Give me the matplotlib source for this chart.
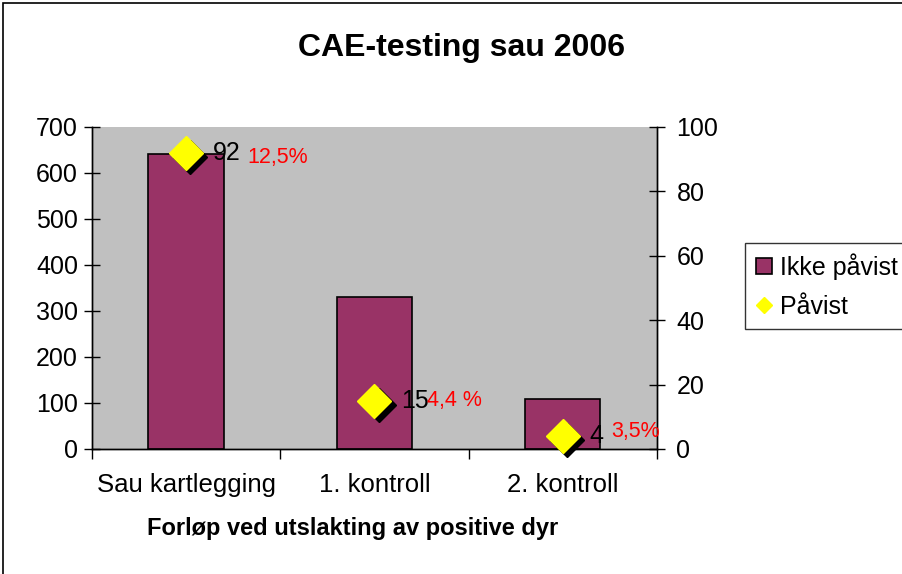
import matplotlib
matplotlib.use("Agg")
import matplotlib.pyplot as plt
from matplotlib.patches import Rectangle
from matplotlib.lines import Line2D
import matplotlib.transforms as mtransforms

categories = ["Sau kartlegging", "1. kontroll", "2. kontroll"]
ikke_pavist = [642, 330, 108]
pavist = [92, 15, 4]
pct_labels = ["12,5%", "4,4 %", "3,5%"]

title = "CAE-testing sau 2006"
xlabel = "Forløp ved utslakting av positive dyr"
left_ticks = [0, 100, 200, 300, 400, 500, 600, 700]
right_ticks = [0, 20, 40, 60, 80, 100]

plt.rcParams['font.family'] = ['Liberation Sans', 'DejaVu Sans']

W, H = 902, 574
fig = plt.figure(figsize=(W / 100, H / 100), dpi=100)
fig.patch.set_facecolor("white")

# figure border (left and top visible)
fig.patches.append(Rectangle((3 / W, -0.1), 1.2, (H - 3) / H + 0.1, transform=fig.transFigure,
                             fill=False, edgecolor="black", linewidth=1.2))

x0, x1 = 92, 657
y0, y1 = 127, 449
ax = fig.add_axes([x0 / W, 1 - y1 / H, (x1 - x0) / W, (y1 - y0) / H])
ax.set_facecolor("#C0C0C0")
pos = list(range(len(categories)))
ax.bar(pos, ikke_pavist, width=0.4, color="#993366", edgecolor="black", linewidth=1.2, zorder=2)
ax.set_xlim(-0.5, len(categories) - 0.5)
ax.set_ylim(0, 700)
ax.set_yticks(left_ticks)
ax.tick_params(axis='y', labelsize=18, direction='inout', length=12, width=1, pad=4)
ax.set_xticks(pos)
ax.set_xticklabels(categories, fontsize=18.5)
ax.tick_params(axis='x', length=0, pad=17)
ax.set_xticks([p - 0.5 for p in pos] + [len(pos) - 0.5], minor=True)
ax.tick_params(axis='x', which='minor', direction='out', length=7, width=1)
for s in ax.spines.values():
    s.set_linewidth(1)
ax.spines['top'].set_visible(False)

ax2 = ax.twinx()
ax2.set_ylim(0, 100)
ax2.set_yticks(right_ticks)
ax2.tick_params(axis='y', labelsize=18, direction='inout', length=12, width=1, pad=8)
ax2.spines['top'].set_visible(False)
for s in ax2.spines.values():
    s.set_linewidth(1)

shadow = mtransforms.offset_copy(ax2.transData, fig=fig, x=3, y=-3, units='points')
ax2.plot(pos, pavist, linestyle='none', marker='D', markersize=17, color='black',
         transform=shadow, zorder=3, clip_on=False)
ax2.plot(pos, pavist, linestyle='none', marker='D', markersize=17, markerfacecolor='#FFFF00',
         markeredgecolor='#FFFF00', zorder=4, clip_on=False)

pct_offsets = [(44, -3.6), (38, 0), (35, 3)]
for p, v, lab, off in zip(pos, pavist, pct_labels, pct_offsets):
    ax2.annotate(str(v), (p, v), xytext=(19, 0), textcoords='offset points',
                 fontsize=18, color='black', ha='left', va='center', zorder=5)
    ax2.annotate(lab, (p, v), xytext=off, textcoords='offset points',
                 fontsize=15.5, color='#FF0000', ha='left', va='center', zorder=5)

fig.text(462 / W, 1 - 48 / H, title, fontsize=23, fontweight='bold',
         ha='center', va='center')
fig.text(353 / W, 1 - 529 / H, xlabel, fontsize=17, fontweight='bold',
         ha='center', va='center')

handles = [
    Line2D([], [], linestyle='none', marker='s', markersize=11, markerfacecolor='#993366',
           markeredgecolor='black', markeredgewidth=1.2),
    Line2D([], [], linestyle='none', marker='D', markersize=8, markerfacecolor='#FFFF00',
           markeredgecolor='#FFFF00'),
]
leg = fig.legend(handles, ["Ikke påvist", "Påvist"], loc='upper left',
                 bbox_to_anchor=(745 / W, 1 - 243 / H), fontsize=18, frameon=True,
                 fancybox=False, edgecolor='black', handlelength=0.7, handletextpad=0.3,
                 borderpad=0.4, labelspacing=0.6, borderaxespad=0)
leg.get_frame().set_linewidth(1)

fig.savefig("out.png", dpi=100)
